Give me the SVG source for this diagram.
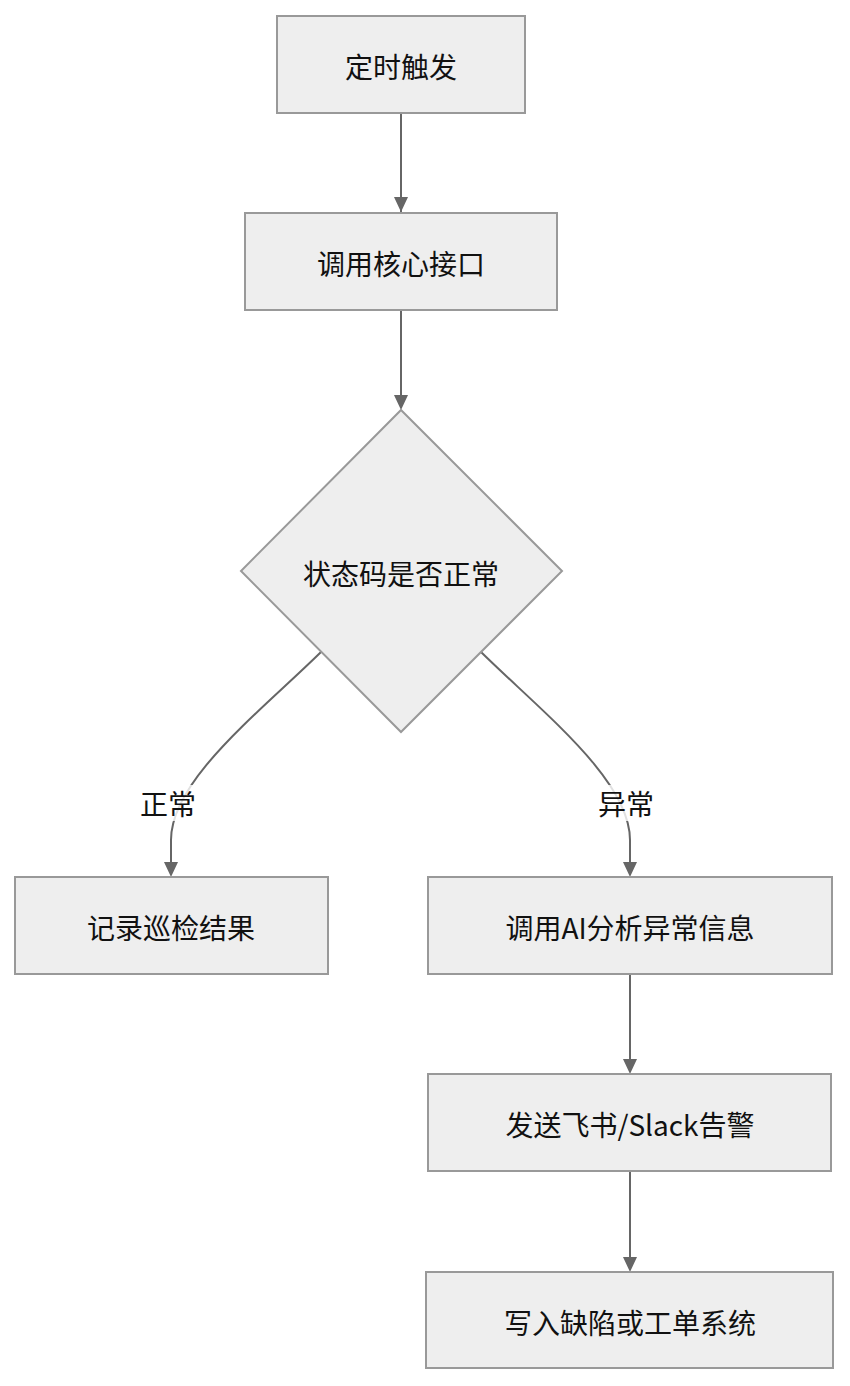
<svg xmlns="http://www.w3.org/2000/svg" width="850" height="1386" viewBox="0 0 850 1386">
<defs>
<marker id="a" viewBox="0 0 10 10" refX="9" refY="5" markerWidth="8" markerHeight="8" markerUnits="userSpaceOnUse" orient="auto"><path d="M0,0L10,5L0,10z" fill="#666"/></marker>
<style>
.n{fill:#eeeeee;stroke:#999;stroke-width:2}
.t{font-family:"Noto Sans CJK SC","Noto Sans",sans-serif;font-size:28px;fill:#111;text-anchor:middle;dominant-baseline:central}
.e{fill:none;stroke:#666;stroke-width:2}
</style>
</defs>
<rect width="850" height="1386" fill="#fff"/>
<g id="edges">
<path class="e" d="M401,113V212" marker-end="url(#a)" style="marker-end:none"/>
<path d="M394,197L401,212L408,197z" fill="#666"/>
<path class="e" d="M401,310V395"/><path d="M394,395L401,410L408,395z" fill="#666"/>
<path class="e" d="M321,652C260,712 171,780 171,840V862"/><path d="M164,862L171,877L178,862z" fill="#666"/>
<path class="e" d="M481,652C542,712 630,780 630,840V862"/><path d="M623,862L630,877L637,862z" fill="#666"/>
<path class="e" d="M630,974V1059"/><path d="M623,1059L630,1074L637,1059z" fill="#666"/>
<path class="e" d="M630,1171V1257"/><path d="M623,1257L630,1272L637,1257z" fill="#666"/>
<rect x="138" y="785" width="62" height="36" fill="#fff" opacity="0.8"/>
<text class="t" x="168" y="803">正常</text>
<rect x="595" y="785" width="62" height="36" fill="#fff" opacity="0.8"/>
<text class="t" x="626" y="803">异常</text>
</g>
<g id="n1"><rect class="n" x="277" y="16" width="248" height="97"/><text class="t" x="401" y="66">定时触发</text></g>
<g id="n2"><rect class="n" x="245" y="213" width="312" height="97"/><text class="t" x="401" y="263">调用核心接口</text></g>
<g id="n3"><polygon class="n" points="401,410 562,571 401,732 241,571"/><text class="t" x="401" y="573">状态码是否正常</text></g>
<g id="n4"><rect class="n" x="15" y="877" width="313" height="97"/><text class="t" x="171" y="927">记录巡检结果</text></g>
<g id="n5"><rect class="n" x="428" y="877" width="404" height="97"/><text class="t" x="630" y="927">调用AI分析异常信息</text></g>
<g id="n6"><rect class="n" x="428" y="1074" width="403" height="97"/><text class="t" x="630" y="1124">发送飞书/Slack告警</text></g>
<g id="n7"><rect class="n" x="426" y="1272" width="407" height="96"/><text class="t" x="630" y="1322">写入缺陷或工单系统</text></g>
</svg>
